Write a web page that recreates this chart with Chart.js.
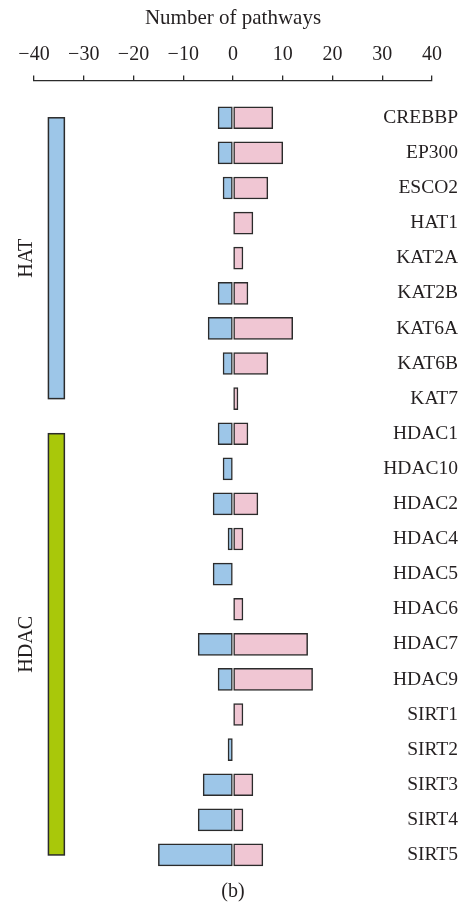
<!DOCTYPE html>
<html>
<head>
<meta charset="utf-8">
<title>Number of pathways per acetylation regulator</title>
<script src="https://cdn.jsdelivr.net/npm/chart.js@4.4.1/dist/chart.umd.min.js"></script>
<style>
  html, body { margin: 0; padding: 0; background: #ffffff; }
  #wrap { position: relative; width: 460px; height: 907px; }
  canvas { display: block; }
</style>
</head>
<body>
<div id="wrap"><canvas id="chart" width="460" height="907"></canvas></div>
<script>
// Genes, top to bottom
const genes = [
  'CREBBP', 'EP300', 'ESCO2', 'HAT1', 'KAT2A', 'KAT2B', 'KAT6A', 'KAT6B', 'KAT7',
  'HDAC1', 'HDAC10', 'HDAC2', 'HDAC4', 'HDAC5', 'HDAC6', 'HDAC7', 'HDAC9',
  'SIRT1', 'SIRT2', 'SIRT3', 'SIRT4', 'SIRT5'
];

// Pathways counted to the left of zero (blue) and to the right (pink)
const leftPathways = [-3, -3, -2, 0, 0, -3, -5, -2, 0, -3, -2, -4, -1, -4, 0, -7, -3, 0, -1, -6, -7, -15];
const rightPathways = [8, 10, 7, 4, 2, 3, 12, 7, 1, 3, 0, 5, 2, 0, 2, 15, 16, 2, 0, 4, 2, 6];

// Enzyme families and the gene rows they span
const familyNames = ['HAT', 'HDAC'];
const familyFirstRow = [0, 9];
const familyLastRow = [8, 21];

// Axis ticks
const xTickValues = [-40, -30, -20, -10, 0, 10, 20, 30, 40];

const SERIF = '"Liberation Serif", "Times New Roman", serif';
const TEXT = '#231f20';
const EDGE = '#2b2b2b';
const FAMILY_COLORS = ['#9dc6e8', '#a9c80a'];

// Row labels on the right, family brackets on the left, panel tag below
const decorations = {
  id: 'decorations',
  beforeDatasetsDraw(chart) {
    const { ctx, scales: { x, y } } = chart;
    ctx.save();
    familyNames.forEach((name, k) => {
      const x0 = x.getPixelForValue(-37.1);
      const x1 = x.getPixelForValue(-33.9);
      const y0 = y.getPixelForValue(familyFirstRow[k]);
      const y1 = y.getPixelForValue(familyLastRow[k]);
      ctx.fillStyle = FAMILY_COLORS[k];
      ctx.fillRect(x0, y0, x1 - x0, y1 - y0);
      ctx.lineWidth = 1.5;
      ctx.strokeStyle = EDGE;
      ctx.strokeRect(x0, y0, x1 - x0, y1 - y0);

      ctx.save();
      ctx.translate(27, (y0 + y1) / 2);
      ctx.rotate(-Math.PI / 2);
      ctx.fillStyle = TEXT;
      ctx.font = '20px ' + SERIF;
      ctx.textAlign = 'center';
      ctx.textBaseline = 'middle';
      ctx.fillText(name, 0, 0);
      ctx.restore();
    });
    ctx.restore();
  },
  afterDraw(chart) {
    const { ctx, chartArea, scales: { y } } = chart;
    ctx.save();
    ctx.fillStyle = TEXT;
    ctx.font = '19.5px ' + SERIF;
    ctx.textAlign = 'right';
    ctx.textBaseline = 'middle';
    genes.forEach((g, i) => ctx.fillText(g, 458, y.getPixelForValue(i)));
    ctx.font = '20px ' + SERIF;
    ctx.textAlign = 'center';
    ctx.fillText('(b)', (chartArea.left + chartArea.right) / 2, 892);
    ctx.restore();
  }
};

const barStyle = {
  borderColor: EDGE,
  borderWidth: 1.5,
  borderSkipped: false,
  barThickness: 22
};

new Chart(document.getElementById('chart'), {
  type: 'bar',
  data: {
    datasets: [
      Object.assign({
        label: 'left',
        data: genes.map((g, i) => ({ x: leftPathways[i], y: i })),
        backgroundColor: '#9dc6e8'
      }, barStyle),
      Object.assign({
        label: 'right',
        data: genes.map((g, i) => ({ x: rightPathways[i], y: i })),
        backgroundColor: '#f0c6d3'
      }, barStyle)
    ]
  },
  options: {
    indexAxis: 'y',
    responsive: false,
    animation: false,
    devicePixelRatio: 1,
    layout: { padding: { left: 34, right: 28, top: 6, bottom: 34.5 } },
    plugins: {
      legend: { display: false },
      tooltip: { enabled: false }
    },
    scales: {
      x: {
        type: 'linear',
        position: 'top',
        min: -40,
        max: 40,
        stacked: true,
        afterBuildTicks(scale) {
          scale.ticks = xTickValues.map(v => ({ value: v }));
        },
        ticks: {
          padding: 8.6,
          color: TEXT,
          font: { family: SERIF, size: 20 },
          callback: v => String(v).replace('-', '\u2212')
        },
        grid: {
          drawOnChartArea: false,
          drawTicks: true,
          tickLength: 5,
          color: EDGE,
          lineWidth: 1.3
        },
        border: { display: true, color: EDGE, width: 1.3 },
        title: {
          display: true,
          text: 'Number of pathways',
          color: TEXT,
          font: { family: SERIF, size: 21 },
          padding: { top: 0, bottom: 3 }
        }
      },
      y: {
        type: 'linear',
        min: -1.065,
        max: 21.5,
        reverse: true,
        stacked: true,
        offset: false,
        grace: 0,
        display: false
      }
    }
  },
  plugins: [decorations]
});
</script>
</body>
</html>
